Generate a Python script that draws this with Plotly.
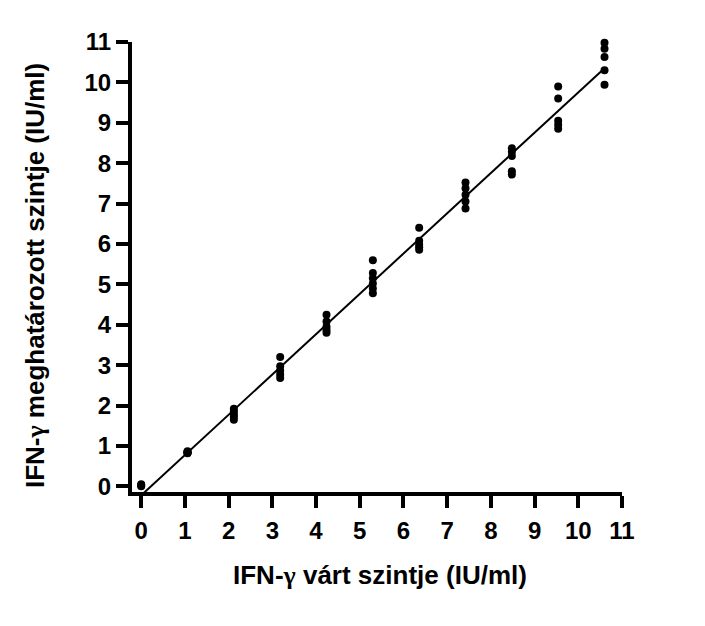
import numpy as np
import plotly.graph_objects as go

# expected IFN-gamma levels (IU/ml) and measured replicates
expected = [0.0, 1.06, 2.12, 3.18, 4.24, 5.30, 6.36, 7.42, 8.48, 9.54, 10.60]
measured = [
    [0.05, 0.02, 0.0],
    [0.82, 0.85, 0.87, 0.84, 0.83],
    [1.92, 1.85, 1.78, 1.72, 1.65],
    [3.20, 2.97, 2.86, 2.77, 2.68],
    [4.25, 4.08, 3.95, 3.87, 3.80],
    [5.60, 5.28, 5.15, 5.02, 4.90, 4.78],
    [6.40, 6.08, 5.98, 5.92, 5.86],
    [7.52, 7.38, 7.22, 7.05, 6.88],
    [8.37, 8.28, 8.18, 7.80, 7.72],
    [9.90, 9.60, 9.05, 8.95, 8.85],
    [10.98, 10.83, 10.63, 10.30, 9.94],
]
tick_vals = list(range(0, 12))

xs = [e for e, reps in zip(expected, measured) for _ in reps]
ys = [v for reps in measured for v in reps]

slope, intercept = np.polyfit(xs, ys, 1)
line_x = [min(expected), max(expected)]
line_y = [slope * v + intercept for v in line_x]

fig = go.Figure()
fig.add_trace(go.Scatter(x=line_x, y=line_y, mode="lines",
                         line=dict(color="black", width=2), showlegend=False,
                         cliponaxis=False))
fig.add_trace(go.Scatter(x=xs, y=ys, mode="markers",
                         marker=dict(color="black", size=8), showlegend=False,
                         cliponaxis=False))

font = dict(family="Liberation Sans, Arial, sans-serif", color="black")
axis_common = dict(
    showline=True, linecolor="black", linewidth=4,
    ticks="outside", ticklen=12, tickwidth=4, tickcolor="black",
    showgrid=False, zeroline=False, tickvals=tick_vals,
    tickfont=dict(size=24, weight="bold", **font),
    automargin=False,
)

gamma = "<span style='font-family:Liberation Serif, serif'>γ</span>"

fig.update_layout(
    width=705, height=626,
    margin=dict(l=124, r=91, t=34, b=142),
    plot_bgcolor="white", paper_bgcolor="white",
    xaxis=dict(range=[-0.21, 11], ticklabelstandoff=2, **axis_common),
    yaxis=dict(range=[-0.14, 11], ticklabelstandoff=0, **axis_common),
    annotations=[
        dict(text=f"IFN-{gamma} várt szintje (IU/ml)", xref="paper", yref="paper",
             x=0.506, y=-0.184, showarrow=False, xanchor="center", yanchor="middle",
             font=dict(size=26, weight="bold", **font)),
        dict(text=f"IFN-{gamma} meghatározott szintje (IU/ml)", xref="paper", yref="paper",
             x=-0.198, y=0.482, showarrow=False, textangle=-90,
             xanchor="center", yanchor="middle",
             font=dict(size=26, weight="bold", **font)),
    ],
)

fig.write_html("out.html")
